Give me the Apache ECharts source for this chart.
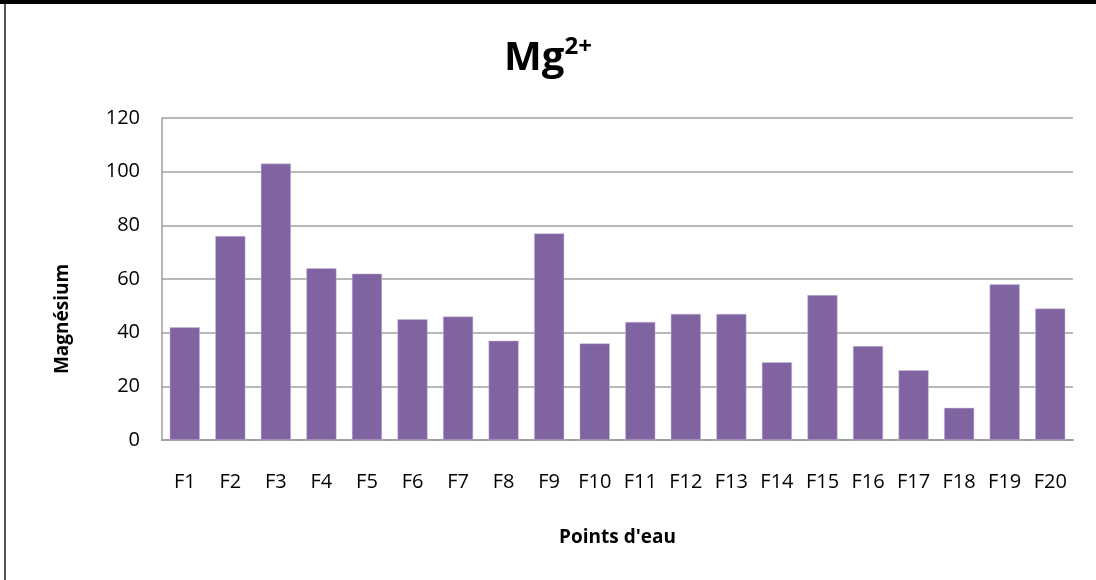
<!DOCTYPE html>
<html>
<head>
<meta charset="utf-8">
<script src="https://cdn.jsdelivr.net/npm/echarts@6/dist/echarts.min.js"></script>
<style>
  html, body { margin: 0; padding: 0; background: #fff; }
  #chart { width: 1096px; height: 580px; }
</style>
</head>
<body>
<div id="chart"></div>
<script>
// points d'eau and magnesium values
const points = ['F1', 'F2', 'F3', 'F4', 'F5', 'F6', 'F7', 'F8', 'F9', 'F10',
  'F11', 'F12', 'F13', 'F14', 'F15', 'F16', 'F17', 'F18', 'F19', 'F20'];
const magnesium = [42, 76, 103, 64, 62, 45, 46, 37, 77, 36,
  44, 47, 47, 29, 54, 35, 26, 12, 58, 49];
const yTicks = { min: 0, max: 120, interval: 20 };

const font = '"Open Sans", "Liberation Sans", sans-serif';
const chart = echarts.init(document.getElementById('chart'));

chart.setOption({
  animation: false,
  textStyle: { fontFamily: font },
  title: {
    text: '{b|Mg}{s|2+}',
    left: 'center',
    top: 30,
    textStyle: {
      rich: {
        b: { fontFamily: font, fontSize: 40, fontWeight: 'bold', color: '#000', verticalAlign: 'bottom' },
        s: { fontFamily: font, fontSize: 24, fontWeight: 'bold', color: '#000', padding: [0, 0, 20, 0], verticalAlign: 'bottom' }
      }
    }
  },
  graphic: [
    { type: 'rect', shape: { x: 5, y: 3, width: 1100, height: 600 }, style: { fill: 'none', stroke: '#555', lineWidth: 2 } },
    { type: 'rect', shape: { x: 0, y: 0, width: 1096, height: 4 }, style: { fill: '#000' } }
  ],
  grid: { left: 162, right: 23, top: 118, bottom: 140 },
  xAxis: {
    type: 'category',
    data: points,
    name: "Points d'eau",
    nameLocation: 'middle',
    nameGap: 88,
    nameTextStyle: { fontSize: 19, fontWeight: 'bold', color: '#000' },
    axisLine: { lineStyle: { color: '#a0a0a0', width: 2 } },
    axisTick: { show: false },
    axisLabel: { color: '#000', fontSize: 20, margin: 32, interval: 0 }
  },
  yAxis: {
    type: 'value',
    min: yTicks.min,
    max: yTicks.max,
    interval: yTicks.interval,
    name: 'Magnésium',
    nameLocation: 'middle',
    nameGap: 90,
    nameTextStyle: { fontSize: 19, fontWeight: 'bold', color: '#000', padding: [0, 80, 0, 0] },
    axisLine: { show: true, lineStyle: { color: '#a0a0a0', width: 1.5 } },
    axisTick: { show: false },
    axisLabel: { color: '#000', fontSize: 20, margin: 22 },
    splitLine: { lineStyle: { color: '#a0a0a0', width: 1.5 } }
  },
  series: [{
    type: 'bar',
    data: magnesium,
    barCategoryGap: '34%',
    itemStyle: { color: '#8064A2', borderColor: '#c9bcdc', borderWidth: 0.5 }
  }]
});
</script>
</body>
</html>
